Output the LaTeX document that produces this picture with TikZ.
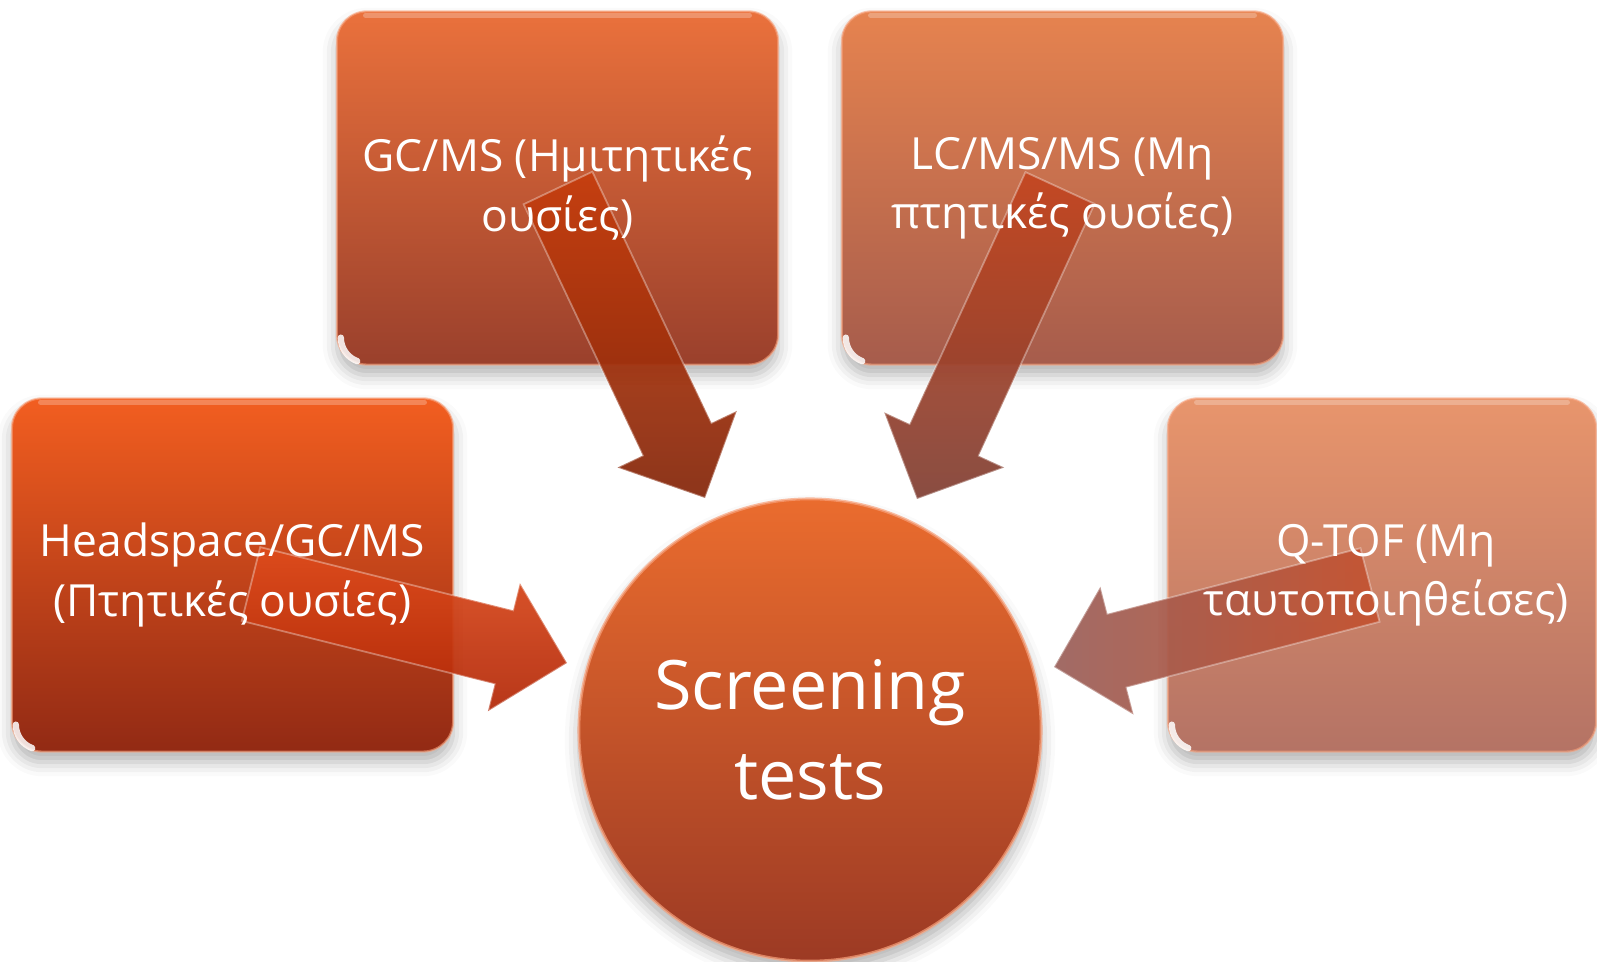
\documentclass[tikz,border=0pt]{standalone}
\usepackage{fontspec}
\setmainfont{Open Sans}
\usetikzlibrary{calc,shadows.blur}

% palette
\definecolor{hsTop}{HTML}{F25E20}
\definecolor{hsMid}{HTML}{DC4818}
\definecolor{hsBot}{HTML}{922A14}
\definecolor{gcTop}{HTML}{EA713C}
\definecolor{gcMid}{HTML}{D0562E}
\definecolor{gcBot}{HTML}{9A402C}
\definecolor{lcTop}{HTML}{E6834F}
\definecolor{lcMid}{HTML}{D06C48}
\definecolor{lcBot}{HTML}{A65C4C}
\definecolor{qtTop}{HTML}{E8956C}
\definecolor{qtMid}{HTML}{D8826A}
\definecolor{qtBot}{HTML}{B47365}
\definecolor{scTop}{HTML}{EA6C2E}
\definecolor{scMid}{HTML}{D4502A}
\definecolor{scBot}{HTML}{9C3A24}
\definecolor{rim}{HTML}{F7A07A}

% block arrow from #2 (tail) to #3 (tip)
\def\shaftw{0.38cm}
\def\headw{0.66cm}
\def\headl{0.65cm}
\newcommand\blockarrow[3]{%
  \path[arrowbody,#1]
    ($(#2)!\shaftw!-90:(#3)$)
    -- ($(#3)!\headl!(#2)!\shaftw!-90:(#3)$)
    -- ($(#3)!\headl!(#2)!\headw!-90:(#3)$)
    -- (#3)
    -- ($(#3)!\headl!(#2)!\headw!90:(#3)$)
    -- ($(#3)!\headl!(#2)!\shaftw!90:(#3)$)
    -- ($(#2)!\shaftw!90:(#3)$)
    -- cycle;}

% gloss on a box: soft line under the top edge, bright crescent along the lower left corner
\newcommand\gloss[1]{%
  \draw[white, opacity=0.25, line width=1.6pt, line cap=round]
    ($(#1.north west)+(30,5)$) -- ($(#1.north east)+(-30,5)$);
  \draw[white, opacity=0.85, line width=1.8pt, line cap=round]
    ($(#1.south west)+(5,-28)$) arc[start angle=180, end angle=250, radius=0.25cm];}

\begin{document}
\begin{tikzpicture}[x=0.01cm, y=-0.01cm,
  stage/.style={rounded corners=0.3cm, minimum width=4.41cm, minimum height=3.53cm,
    draw=rim, draw opacity=0.6, line width=0.6pt,
    blur shadow={shadow xshift=0pt, shadow yshift=-3pt, shadow blur radius=4pt, shadow opacity=30}},
  caption/.style={text=white, align=center, font=\fontsize{12.6}{16.8}\selectfont},
  hub/.style={circle, minimum size=4.62cm, inner sep=0pt, draw=rim, draw opacity=0.7,
    line width=0.8pt, text=white, align=center,
    font=\fontsize{19.4}{25.5}\selectfont,
    top color=scTop, middle color=scMid, bottom color=scBot,
    blur shadow={shadow xshift=0pt, shadow yshift=-3pt, shadow blur radius=4pt, shadow opacity=30}},
  arrowbody/.style={draw=white, draw opacity=0.35, line width=0.5pt, fill opacity=0.93, line join=miter}
]
\useasboundingbox (0,0) rectangle (1597,962);

% source boxes
\node[stage, top color=hsTop, middle color=hsMid, bottom color=hsBot] (hs) at (232.5,575) {};
\node[stage, top color=gcTop, middle color=gcMid, bottom color=gcBot] (gc) at (557.5,188) {};
\node[stage, top color=lcTop, middle color=lcMid, bottom color=lcBot] (lc) at (1062.5,188) {};
\node[stage, minimum width=4.28cm, top color=qtTop, middle color=qtMid, bottom color=qtBot] (qt) at (1382,575) {};

\gloss{hs}
\gloss{gc}
\gloss{lc}
\gloss{qt}

% arrow ends
\coordinate (hsTail) at (251,584);
\coordinate (hsTip)  at (567,663);
\coordinate (gcTail) at (558,188);
\coordinate (gcTip)  at (705,498);
\coordinate (lcTail) at (1060,188);
\coordinate (lcTip)  at (917,499);
\coordinate (qtTail) at (1370,585);
\coordinate (qtTip)  at (1054,667);

\blockarrow{top color={rgb,255:red,222;green,76;blue,28}, bottom color={rgb,255:red,178;green,40;blue,8}}{hsTail}{hsTip}
\blockarrow{top color={rgb,255:red,198;green,62;blue,14}, bottom color={rgb,255:red,132;green,38;blue,10}}{gcTail}{gcTip}
\blockarrow{top color={rgb,255:red,196;green,70;blue,32}, bottom color={rgb,255:red,128;green,64;blue,52}}{lcTail}{lcTip}
\blockarrow{left color={rgb,255:red,154;green,96;blue,90}, right color={rgb,255:red,196;green,82;blue,48}}{qtTail}{qtTip}

% box captions, set above the arrows
\node[caption] (hsText) at (hs.center) {Headspace/GC/MS\\(Πτητικές ουσίες)};
\node[caption] (gcText) at (gc.center) {GC/MS (Ημιτητικές\\ουσίες)};
\node[caption] (lcText) at (lc.center) {LC/MS/MS (Μη\\πτητικές ουσίες)};
\node[caption] (qtText) at ($(qt.center)+(4,0)$) {Q-TOF (Μη\\ταυτοποιηθείσες)};

% target
\node[hub] (scr) at (810,730) {Screening\\tests};
\end{tikzpicture}
\end{document}
